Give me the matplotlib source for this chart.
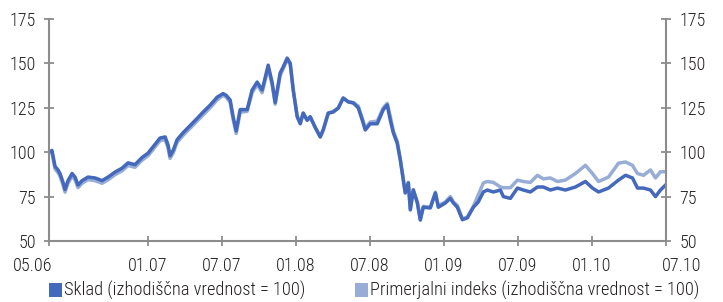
import matplotlib
matplotlib.use("Agg")
import matplotlib.pyplot as plt
from matplotlib.patches import Rectangle
from matplotlib.transforms import ScaledTranslation

plt.rcParams["font.family"] = ["Roboto Condensed", "Liberation Sans Narrow", "Liberation Sans", "DejaVu Sans"]
plt.rcParams["font.weight"] = "light"
font_size = 13
legend_size = 13.2

# months since 05.2006
months = [
    0, 0.24, 0.49, 0.73, 0.89, 1.14, 1.30, 1.54, 1.87, 2.11, 2.35, 2.68, 3.16, 3.73,
    4.30, 4.79, 5.35, 5.92, 6.41, 6.97, 7.54, 8.03, 8.43, 9.00, 9.41, 9.65, 9.81,
    10.06, 10.38, 10.87, 11.44, 12.00, 12.49, 13.06, 13.63, 14.11, 14.36, 14.68,
    14.92, 15.17, 15.33, 15.49, 16.06, 16.46, 16.87, 17.27, 17.52, 17.76, 18.09,
    18.33, 18.73, 18.98, 19.30, 19.55, 19.79, 20.11, 20.36, 20.60, 20.92, 21.17,
    21.57, 21.98, 22.22, 22.63, 23.03, 23.44, 23.84, 24.25, 24.66, 25.06, 25.39,
    25.63, 26.03, 26.60, 27.09, 27.41, 27.66, 27.90, 28.22, 28.47, 28.71, 28.87,
    29.12, 29.28, 29.52, 29.85, 30.09, 30.33, 30.90, 31.31, 31.55, 32.12, 32.52,
    32.77, 33.09, 33.50, 33.90, 34.39, 34.79, 35.20, 35.52, 36.01, 36.58, 36.82,
    37.39, 37.96, 38.44, 39.01, 39.58, 40.06, 40.63, 41.20, 41.85, 42.66, 43.47,
    44.04, 44.53, 45.34, 46.15, 46.72, 47.28, 47.69, 48.18, 48.74, 49.15, 49.55,
    49.96,
]

sklad = [
    100, 101, 92, 90, 88, 83, 79, 84, 88, 86, 81.5, 84, 86, 85.5,
    84, 86, 88.8, 91, 94, 93, 97, 99.5, 103, 108, 108.6, 104, 98,
    101, 107, 111, 115, 119, 122.6, 126.5, 131, 133, 132, 129.4,
    120, 112, 118, 124, 124, 135, 139.5, 135, 142, 149, 139,
    128, 144.6, 148, 153, 150, 135, 120, 116, 122, 118, 120,
    114, 108.6, 112.5, 122, 122.6, 124.8, 130.5, 128.3, 127.7, 125, 118,
    112.5, 116, 116, 124, 126.6, 118, 111, 105, 95.6, 84.3, 77,
    82.7, 67.5, 78.7, 71.4, 61.8, 69, 68.6, 77, 69, 71.4, 74,
    71.4, 69, 62, 63, 69, 72, 77.6, 78.7, 77.6, 78.7, 75,
    74, 79.8, 78.7, 77.6, 80.4, 80.4, 78.7, 79.8, 78.7, 80.4, 83.5,
    79.8, 77.6, 79.8, 84.3, 87, 85.5, 79.8, 79.8, 78.7, 75, 78.7,
    81.5,
]

indeks = [
    100, 99.5, 90.5, 88.5, 86.5, 81.5, 77.5, 82.5, 86.5, 84.5, 80, 82.5, 84.5, 84,
    82.5, 84.5, 87.3, 89.5, 92.5, 91.5, 95.5, 98, 101.5, 106.5, 107, 102.5, 96.5,
    99.5, 105.5, 109.5, 113.5, 117.5, 121, 125, 129.5, 132, 131, 128,
    118.5, 110.5, 116.5, 122.5, 123, 133.5, 138, 133.5, 140.5, 147.5, 137.5,
    127, 143, 147, 152, 149.5, 135.5, 120.5, 116.5, 122, 118, 119.5,
    114, 108.6, 112.5, 122, 123, 125, 130.5, 128.5, 128, 126, 119,
    113.5, 117, 117.5, 125, 127.5, 120, 112, 106, 96, 85, 77.5,
    83, 68, 79, 72, 62, 69.5, 69, 77.5, 70, 72, 75,
    72, 70, 62.5, 63.5, 69.5, 76, 82.7, 83.5, 83, 80.4, 80,
    80, 84.3, 83.5, 83, 87, 85, 85.5, 83.5, 84.3, 88, 92.6,
    88, 83.5, 86, 93.8, 94.5, 92.6, 88, 87, 90, 85.5, 89,
    89,
]

tick_pos = [0, 8, 14, 20, 26, 32, 38, 44, 50]
tick_labels = ["05.06", "01.07", "07.07", "01.08", "07.08", "01.09", "07.09", "01.10", "07.10"]
y_ticks = [50, 75, 100, 125, 150, 175]
legend_labels = ["Sklad (izhodiščna vrednost = 100)", "Primerjalni indeks (izhodiščna vrednost = 100)"]

colors = {"sklad": "#4468BC", "indeks": "#97ADD5"}
spine_color = "#8c8c8c"
text_color = "#231f20"

W, H = 723, 302
fig = plt.figure(figsize=(W / 100, H / 100), dpi=100)
ax = fig.add_axes([49 / W, 61 / H, 617 / W, 222 / H])

ax.plot(months, indeks, color=colors["indeks"], linewidth=2.5, solid_joinstyle="round")
ax.plot(months, sklad, color=colors["sklad"], linewidth=2.5, solid_joinstyle="round")

ax.set_xlim(0, 50)
ax.set_ylim(50, 175)
ax.set_xticks(tick_pos)
ax.set_xticklabels(tick_labels)
ax.set_yticks(y_ticks)

ax2 = ax.twinx()
ax2.set_ylim(50, 175)
ax2.set_yticks(y_ticks)

for a in (ax, ax2):
    a.spines["top"].set_visible(False)
    for side in ("left", "right", "bottom"):
        a.spines[side].set_color(spine_color)
        a.spines[side].set_linewidth(1.5)
    a.tick_params(axis="both", direction="inout", length=7, width=1.3,
                  color=spine_color, labelsize=font_size, labelcolor=text_color, pad=6)
ax.spines["right"].set_visible(False)
ax2.spines["left"].set_visible(False)
ax2.spines["bottom"].set_visible(False)
ax.tick_params(axis="x", pad=8)

labels = ax.get_xticklabels()
labels[0].set_transform(labels[0].get_transform() + ScaledTranslation(-16 / 100, 0, fig.dpi_scale_trans))
labels[-1].set_transform(labels[-1].get_transform() + ScaledTranslation(16 / 100, 0, fig.dpi_scale_trans))

# legend row below the axis
for x0, key, text in [(49, "sklad", legend_labels[0]), (355, "indeks", legend_labels[1])]:
    fig.patches.append(Rectangle((x0 / W, 1 - 297 / H), 13 / W, 14 / H,
                                 transform=fig.transFigure, facecolor=colors[key],
                                 edgecolor="none"))
    fig.text((x0 + 15) / W, 1 - 290 / H, text, fontsize=legend_size,
             color=text_color, va="center", ha="left")

fig.savefig("out.png", dpi=100)
